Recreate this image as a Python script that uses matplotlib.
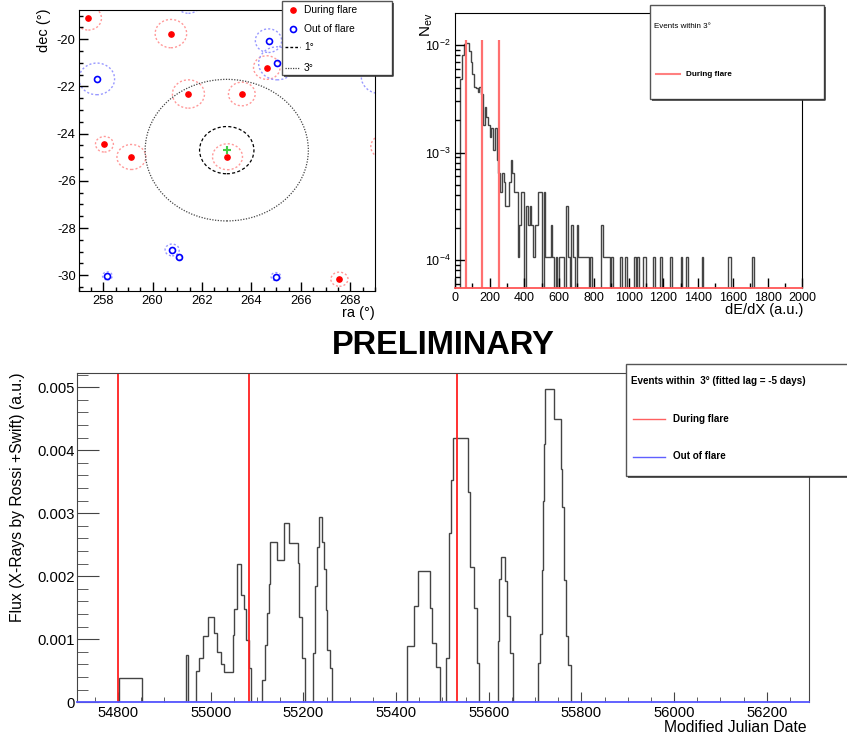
import matplotlib
matplotlib.use("Agg")
import matplotlib.pyplot as plt
import numpy as np
from matplotlib.patches import Ellipse, Rectangle
from matplotlib.ticker import MultipleLocator, LogLocator, NullFormatter, FuncFormatter

plt.rcParams['font.family'] = ['Liberation Sans', 'DejaVu Sans']
plt.rcParams['axes.unicode_minus'] = False
plt.rcParams['mathtext.fontset'] = 'custom'
plt.rcParams['mathtext.rm'] = 'Liberation Sans'
plt.rcParams['mathtext.it'] = 'Liberation Sans:italic'

W, H = 847, 743

# ---- sky map: source and events (ra, dec in degrees, error radius) ----
src_ra, src_dec = 263.0, -24.7
circle_radii = [1.0, 3.0]
flare_ra = [257.40, 260.74, 264.62, 261.45, 263.61, 258.05, 259.14, 263.03, 267.56, 269.38]
flare_dec = [-19.11, -19.76, -21.20, -22.32, -22.32, -24.45, -24.99, -24.98, -30.17, -24.55]
flare_err = [0.5, 0.6, 0.5, 0.6, 0.5, 0.33, 0.53, 0.55, 0.3, 0.5]
quiet_ra = [257.74, 264.69, 265.04, 260.79, 261.07, 258.17, 264.99, 261.45, 269.2]
quiet_dec = [-21.68, -20.06, -21.02, -28.93, -29.25, -30.03, -30.06, -18.4, -21.6]
quiet_err = [0.67, 0.5, 0.7, 0.25, 0.1, 0.17, 0.17, 0.5, 0.7]

# ---- dE/dX distribution, bins of 10 a.u. from 0 to 2000 ----
n_events = 9380
dedx_counts = [
    0, 0, 0, 45, 75, 95, 98, 97, 82, 65,
    50, 38, 37, 34, 38, 33, 17, 25, 20, 17,
    13, 16, 10, 16, 8, 6, 4, 6, 5, 3,
    3, 5, 8, 6, 4, 4, 1, 2, 4, 4,
    0, 3, 2, 3, 2, 1, 2, 2, 4, 4,
    0, 4, 1, 1, 1, 2, 1, 0, 1, 0,
    1, 1, 1, 0, 3, 1, 0, 2, 1, 0,
    2, 1, 1, 1, 1, 1, 1, 0, 1, 0,
    0, 0, 0, 0, 2, 1, 1, 1, 1, 0,
    1, 0, 0, 0, 0, 1, 0, 0, 1, 0,
    0, 0, 0, 1, 0, 1, 0, 0, 1, 1,
    0, 0, 0, 0, 1, 0, 0, 0, 1, 0,
    0, 0, 0, 0, 1, 0, 0, 0, 0, 0,
    1, 0, 0, 1, 0, 0, 0, 0, 0, 0,
    0, 0, 1, 0, 0, 0, 0, 0, 0, 0,
    0, 0, 0, 0, 0, 0, 0, 1, 1, 0,
    0, 0, 0, 0, 0, 0, 0, 0, 0, 0,
    0, 1, 0, 0, 0, 0, 0, 0, 0, 0,
    0, 0, 0, 0, 0, 0, 0, 0, 0, 0,
    0, 0, 0, 0, 0, 0, 0, 0, 0, 0,
]
flare_dedx = [61, 155, 251]

# ---- X-ray light curve (MJD bin edges and flux) ----
lc_edges = [54801, 54852, 54947, 54952, 54969, 54974, 54984, 54993.5, 55006, 55013,
            55022, 55029, 55047, 55051, 55057, 55066, 55071, 55077, 55082, 55087,
            55111, 55116.5, 55122, 55125, 55129, 55142, 55157.5, 55170, 55188, 55191,
            55196, 55204, 55220, 55225, 55229, 55234, 55241, 55245, 55249, 55252,
            55257, 55262.5, 55424, 55439, 55448, 55474, 55478, 55487, 55495, 55508,
            55514, 55519, 55523, 55556, 55560, 55568, 55574, 55580, 55619, 55623,
            55627, 55636, 55640, 55646, 55652, 55706, 55711, 55714, 55716.5, 55719,
            55722, 55742, 55755, 55759, 55762.5, 55767, 55772, 55778]
lc_flux = [0.00038, 0, 0.00075, 0, 0.0005, 0.00071, 0.00105, 0.00136, 0.0011, 0.0008,
           0.00061, 0.00048, 0.00107, 0.00148, 0.00219, 0.00171, 0.00148, 0.00099, 0.00054, 0,
           0.00035, 0.00091, 0.00141, 0.00188, 0.00255, 0.00225, 0.00284, 0.00252, 0.00221, 0.00136,
           0.0007, 0, 0.00078, 0.00184, 0.00246, 0.00294, 0.00254, 0.00211, 0.00147, 0.00083,
           0.00054, 0, 0.00089, 0.00152, 0.00208, 0.00149, 0.00094, 0.00056, 0, 0.00071,
           0.00268, 0.00352, 0.00419, 0.00333, 0.00215, 0.00149, 0.00062, 0, 0.00098, 0.00195,
           0.00231, 0.00192, 0.00137, 0.00078, 0, 0.00063, 0.00108, 0.0021, 0.0032, 0.0041,
           0.00497, 0.00449, 0.0037, 0.0031, 0.00194, 0.00105, 0.00059]
flare_mjd = [54800, 55083, 55532]


fig = plt.figure(figsize=(W / 100, H / 100), dpi=100)


def axes_px(l, t, r, b):
    return fig.add_axes([l / W, 1 - b / H, (r - l) / W, (b - t) / H])


def legend_box(l, t, r, b):
    lax = axes_px(l, t, r, b)
    lax.set_xlim(l, r)
    lax.set_ylim(b, t)
    lax.axis('off')
    lax.add_patch(Rectangle((l, t), r - l, b - t, facecolor='white', edgecolor='#555555',
                            lw=1, clip_on=False))
    lax.plot([l + 2, r + 1, r + 1], [b + 1, b + 1, t + 2], color='#333333', lw=1.1,
             clip_on=False, solid_capstyle='butt')
    return lax


# ================= sky map =================
ax1 = axes_px(78.5, 10, 375, 291)
for ra, dec, r in zip(flare_ra, flare_dec, flare_err):
    ax1.add_patch(Ellipse((ra, dec), 2 * r / np.cos(np.radians(dec)), 2 * r, fill=False,
                          ec='#ff9999', lw=1, ls=(0, (1.5, 1.5))))
for ra, dec, r in zip(quiet_ra, quiet_dec, quiet_err):
    ax1.add_patch(Ellipse((ra, dec), 2 * r / np.cos(np.radians(dec)), 2 * r, fill=False,
                          ec='#9999ff', lw=1, ls=(0, (1.5, 1.5))))
cdec = np.cos(np.radians(src_dec))
ax1.add_patch(Ellipse((src_ra, src_dec), 2 * circle_radii[0] / cdec, 2 * circle_radii[0],
                      fill=False, ec='black', lw=0.9, ls=(0, (2.5, 1.8))))
ax1.add_patch(Ellipse((src_ra, src_dec), 2 * circle_radii[1] / cdec, 2 * circle_radii[1],
                      fill=False, ec='#444444', lw=0.9, ls=(0, (1, 1.2))))
ax1.plot(flare_ra, flare_dec, 'o', color='red', ms=3.8)
ax1.plot(quiet_ra, quiet_dec, 'o', mfc='none', mec='blue', ms=4.3, mew=1.2)
ax1.plot(src_ra, src_dec, '+', color='#44cc44', ms=6, mew=1.5)
ax1.set_xlim(257, 269)
ax1.set_ylim(-30.67, -18.76)
ax1.xaxis.set_major_locator(MultipleLocator(2))
ax1.xaxis.set_minor_locator(MultipleLocator(0.5))
ax1.yaxis.set_major_locator(MultipleLocator(2))
ax1.yaxis.set_minor_locator(MultipleLocator(0.5))
ax1.tick_params(which='both', direction='in', top=False, right=False, labelsize=9.3)
ax1.tick_params(which='major', length=6.5, width=1)
ax1.tick_params(which='minor', length=3.2, width=1)
ax1.tick_params(axis='x', pad=3)
ax1.tick_params(axis='y', pad=2)
fig.text(375 / W, 1 - 313 / H, 'ra (°)', ha='right', va='center', fontsize=10.5)
fig.text(44 / W, 1 - 8 / H, 'dec (°)', ha='center', va='top', rotation=90, fontsize=10.5)

lg1 = legend_box(281.7, 0.7, 391.7, 75)
lg1.plot(292.7, 10, 'o', color='red', ms=3.8, clip_on=False)
lg1.plot(292.7, 29.3, 'o', mfc='none', mec='blue', ms=4.3, mew=1.2, clip_on=False)
lg1.plot([285, 300], [47.3, 47.3], color='black', lw=1, ls=(0, (2, 1.5)), clip_on=False)
lg1.plot([285, 300], [67.7, 67.7], color='#444444', lw=0.9, ls=(0, (1, 1)), clip_on=False)
for y, s in zip([10, 29.3, 47.3, 67.7], ['During flare', 'Out of flare', '1°', '3°']):
    lg1.text(304, y, s, va='center', ha='left', fontsize=7.4)

# ================= dE/dX =================
ax2 = axes_px(455, 13.3, 802.3, 288.3)
edges = np.arange(0, 2001, 10)
vals = np.array(dedx_counts, dtype=float) / n_events
vals[vals == 0] = 1e-7
ax2.stairs(vals, edges, baseline=1e-7, color='#444444', lw=1)
ax2.set_yscale('log')
ax2.set_xlim(0, 2000)
ax2.set_ylim(5.46e-5, 0.0197)
ax2.vlines(flare_dedx, 1e-7, max(dedx_counts) / n_events * 1.06, color='#ff7070', lw=1.6)
ax2.spines['bottom'].set_color('#ff5555')
ax2.spines['bottom'].set_linewidth(1.3)
ax2.xaxis.set_major_locator(MultipleLocator(200))
ax2.xaxis.set_minor_locator(MultipleLocator(100))
ax2.yaxis.set_major_locator(LogLocator(base=10))
ax2.yaxis.set_minor_locator(LogLocator(base=10, subs=np.arange(2, 10)))
ax2.yaxis.set_minor_formatter(NullFormatter())
ax2.tick_params(which='both', direction='in', top=False, right=False, labelsize=9)
ax2.tick_params(which='major', length=7, width=1)
ax2.tick_params(which='minor', length=3.5, width=1)
ax2.tick_params(axis='x', pad=3)
ax2.tick_params(axis='y', pad=3)
fig.text(803 / W, 1 - 310 / H, 'dE/dX (a.u.)', ha='right', va='center', fontsize=10.5)
fig.text(427 / W, 1 - 13 / H, r'N$_{\mathrm{ev}}$', ha='center', va='top', rotation=90,
         fontsize=11)

lg2 = legend_box(650.3, 4.7, 823.7, 98.7)
lg2.text(654, 27, 'Events within 3°', va='center', ha='left', fontsize=5.8)
lg2.plot([656, 680], [74.3, 74.3], color='#ff8080', lw=1.5, clip_on=False)
lg2.text(686, 74.3, 'During flare', va='center', ha='left', fontsize=5.9, fontweight='bold')

# ================= title =================
fig.text(443.5 / W, 1 - 345.5 / H, 'PRELIMINARY', ha='center', va='center',
         fontsize=23.5, fontweight='bold')

# ================= light curve =================
ax3 = axes_px(77.3, 373.3, 809.3, 702.3)
ax3.stairs(lc_flux, lc_edges, color='#444444', lw=1)
for m in flare_mjd:
    ax3.axvline(m, color='#ff2020', lw=1.3)
ax3.set_xlim(54712, 56292)
ax3.set_ylim(0, 0.00522)
for s in ['left', 'top', 'right']:
    ax3.spines[s].set_color('#444444')
ax3.spines['bottom'].set_color('#5555ff')
ax3.spines['bottom'].set_linewidth(1.3)
ax3.xaxis.set_major_locator(MultipleLocator(200))
ax3.xaxis.set_minor_locator(MultipleLocator(50))
ax3.yaxis.set_major_locator(MultipleLocator(0.001))
ax3.yaxis.set_minor_locator(MultipleLocator(0.0002))
ax3.yaxis.set_major_formatter(FuncFormatter(lambda v, p: '0' if abs(v) < 1e-9 else f'{v:.3f}'))
ax3.tick_params(which='both', direction='in', top=False, right=False, labelsize=10.6,
                color='#444444')
ax3.tick_params(axis='y', which='major', length=15.8, pad=2)
ax3.tick_params(axis='y', which='minor', length=8)
ax3.tick_params(axis='x', which='major', length=7.2, pad=3)
ax3.tick_params(axis='x', which='minor', length=3.6)
fig.text(807 / W, 1 - 728 / H, 'Modified Julian Date', ha='right', va='center', fontsize=11.3)
fig.text(18 / W, 1 - 373 / H, 'Flux (X-Rays by Rossi +Swift) (a.u.)', ha='center', va='top',
         rotation=90, fontsize=11.3)

lg3 = legend_box(626, 364.3, 860, 475.7)
lg3.text(631, 381, 'Events within  3° (fitted lag = -5 days)', va='center', ha='left',
         fontsize=7.1, fontweight='bold')
lg3.plot([633.3, 665], [419.3, 419.3], color='#ff6060', lw=1, clip_on=False)
lg3.text(672.7, 419.3, 'During flare', va='center', ha='left', fontsize=7.1, fontweight='bold')
lg3.plot([633.3, 665], [457.3, 457.3], color='#6060ff', lw=1, clip_on=False)
lg3.text(672.7, 456, 'Out of flare', va='center', ha='left', fontsize=7.1, fontweight='bold')

fig.savefig('out.png', dpi=100)
